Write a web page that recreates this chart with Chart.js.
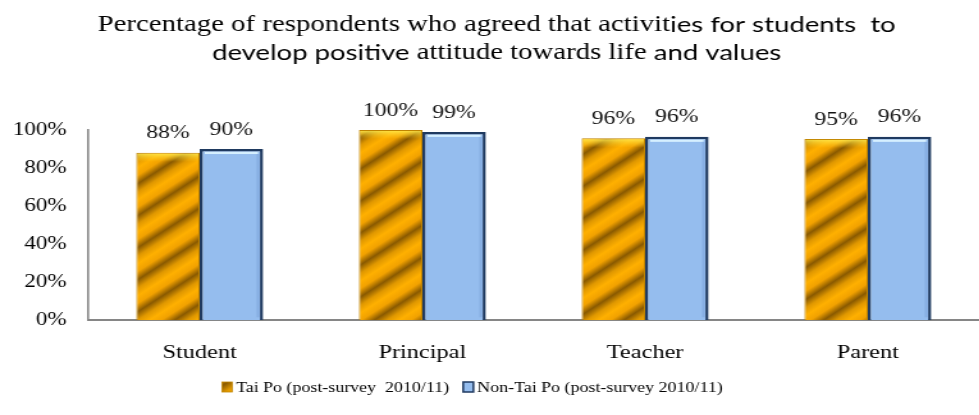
<!DOCTYPE html>
<html>
<head>
<meta charset="utf-8">
<script src="https://cdn.jsdelivr.net/npm/chart.js@4.4.0/dist/chart.umd.min.js"></script>
<style>
  html, body { margin:0; padding:0; background:#fff; overflow:hidden; }
  /* the source picture is a horizontally stretched office chart */
  #wrap { width:765px; height:415px; transform:scaleX(1.28); transform-origin:0 0; }
</style>
</head>
<body>
<div id="wrap"><canvas id="chartAgree"></canvas></div>
<script>
// ---- data ----
const groups = ["Student", "Principal", "Teacher", "Parent"];
const taiPo = [88, 100, 95.6, 95.3];
const nonTaiPo = [90, 99, 96.4, 96.4];
const seriesNames = ["Tai Po (post-survey  2010/11)", "Non-Tai Po (post-survey 2010/11)"];
const yTicks = [0, 20, 40, 60, 80, 100];
// title runs: the original mixes a serif and a sans face
const titleLines = [
  [["serif", "Percentage of respondents who agreed that activit"], ["sans", "ies for students  to"]],
  [["sans", "develop positive "], ["serif", "attitude towards life"], ["sans", " and values"]]
];

const SERIF = "'Liberation Serif', 'Times New Roman', serif";
const SANS = "Lato, 'Liberation Sans', sans-serif";

// striped gold fill (diagonal bands)
function goldPattern() {
  const W = 39, H = 32;
  const c = document.createElement("canvas");
  c.width = W; c.height = H;
  const g = c.getContext("2d");
  const s = 2 / (1 / (W * W) + 1 / (H * H));
  const grad = g.createLinearGradient(0, 0, s / W, s / H);
  grad.addColorStop(0, "#ffb000");
  grad.addColorStop(0.12, "#f2a200");
  grad.addColorStop(0.25, "#8a5a00");
  grad.addColorStop(0.38, "#e09800");
  grad.addColorStop(0.5, "#ffb000");
  grad.addColorStop(0.62, "#f2a200");
  grad.addColorStop(0.75, "#8a5a00");
  grad.addColorStop(0.88, "#e09800");
  grad.addColorStop(1, "#ffb000");
  g.fillStyle = grad;
  g.fillRect(0, 0, W, H);
  return g.createPattern(c, "repeat");
}
const gold = goldPattern();

// title drawn run by run
const mixedTitle = {
  id: "mixedTitle",
  afterDraw(chart) {
    const ctx = chart.ctx;
    const cx = 388, ys = [25, 53];
    const fontOf = kind => kind === "serif" ? "22.5px " + SERIF : "21.5px " + SANS;
    ctx.save();
    ctx.fillStyle = "#000";
    ctx.textBaseline = "middle";
    ctx.textAlign = "left";
    titleLines.forEach((runs, li) => {
      let total = 0;
      runs.forEach(r => { ctx.font = fontOf(r[0]); total += ctx.measureText(r[1]).width; });
      let x = cx - total / 2;
      runs.forEach(r => {
        ctx.font = fontOf(r[0]);
        ctx.fillText(r[1], x, ys[li]);
        x += ctx.measureText(r[1]).width;
      });
    });
    ctx.restore();
  }
};

// legend row under the axis, built from the datasets
const bottomLegend = {
  id: "bottomLegend",
  afterDraw(chart) {
    const ctx = chart.ctx;
    const cy = 387, cx = 369, box = 8, gapText = 3, gapItem = 11;
    ctx.save();
    ctx.font = "14px " + SERIF;
    ctx.textBaseline = "middle";
    ctx.textAlign = "left";
    const items = chart.data.datasets.map(ds => ({ ds, w: ctx.measureText(ds.label).width }));
    let total = 0;
    items.forEach((it, i) => { total += box + gapText + it.w + (i ? gapItem : 0); });
    let x = cx - total / 2;
    items.forEach((it, i) => {
      if (i) x += gapItem;
      ctx.fillStyle = it.ds.backgroundColor;
      ctx.fillRect(x, cy - 5, box, 10);
      ctx.strokeStyle = it.ds.borderColor;
      ctx.lineWidth = i === 1 ? 1.5 : 0.8;
      ctx.strokeRect(x, cy - 5, box, 10);
      x += box + gapText;
      ctx.fillStyle = "#000";
      ctx.fillText(it.ds.label, x, cy + 1);
      x += it.w;
    });
    ctx.restore();
  }
};

// bevel highlight on bar tops + value labels
const barDecor = {
  id: "barDecor",
  afterDatasetsDraw(chart) {
    const ctx = chart.ctx;
    ctx.save();
    chart.data.datasets.forEach((ds, i) => {
      chart.getDatasetMeta(i).data.forEach(bar => {
        const l = bar.x - bar.width / 2, w = bar.width;
        if (i === 0) {
          const g = ctx.createLinearGradient(0, bar.y, 0, bar.y + 9);
          g.addColorStop(0, "rgba(255,236,80,0.95)");
          g.addColorStop(1, "rgba(255,210,40,0)");
          ctx.fillStyle = g;
          ctx.fillRect(l + 1, bar.y + 1, w - 2, 9);
        } else {
          ctx.fillStyle = "#d6f0ff";
          ctx.fillRect(l + 4, bar.y + 3, w - 8, 2);
          ctx.fillStyle = "rgba(120,160,215,0.5)";
          ctx.fillRect(l + w - 5, bar.y + 5, 2, bar.base - bar.y - 8);
        }
      });
    });
    ctx.font = "18.5px " + SERIF;
    ctx.fillStyle = "#111";
    ctx.textAlign = "center";
    ctx.textBaseline = "bottom";
    chart.data.datasets.forEach((ds, i) => {
      chart.getDatasetMeta(i).data.forEach((bar, j) => {
        ctx.fillText(Math.round(ds.data[j]) + "%", bar.x, bar.y - 10);
      });
    });
    ctx.restore();
  }
};

new Chart(document.getElementById("chartAgree"), {
  type: "bar",
  data: {
    labels: groups,
    datasets: [
      { label: seriesNames[0], data: taiPo, backgroundColor: gold,
        borderColor: "#c08400", borderWidth: 1,
        categoryPercentage: 0.57, barPercentage: 1 },
      { label: seriesNames[1], data: nonTaiPo, backgroundColor: "#95bdee",
        borderColor: "#1f3a60", borderWidth: 2.5,
        categoryPercentage: 0.57, barPercentage: 1 }
    ]
  },
  options: {
    responsive: true,
    maintainAspectRatio: false,
    animation: false,
    layout: { padding: { left: 10, right: 0, top: 130, bottom: 30 } },
    plugins: {
      title: { display: false },
      legend: { display: false },
      tooltip: { enabled: false }
    },
    scales: {
      x: {
        grid: { display: false, drawTicks: false },
        border: { display: true, color: "#868686", width: 2 },
        ticks: { color: "#000", font: { family: SERIF, size: 19 }, padding: 21 }
      },
      y: {
        min: 0, max: 100,
        afterBuildTicks(axis) { axis.ticks = yTicks.map(v => ({ value: v })); },
        afterFit(axis) { axis.width = 59; },
        grid: { display: false, drawTicks: false },
        border: { display: true, color: "#868686", width: 1.6 },
        ticks: { color: "#000", font: { family: SERIF, size: 18 }, padding: 17,
                 callback: v => v + "%" }
      }
    }
  },
  plugins: [barDecor, mixedTitle, bottomLegend]
});
</script>
</body>
</html>
